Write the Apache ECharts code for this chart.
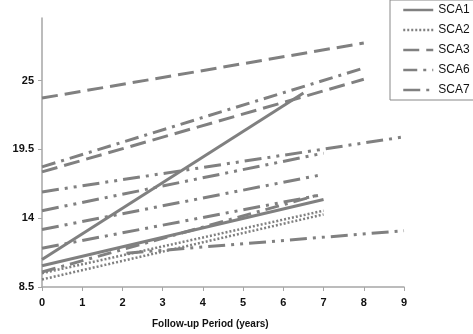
<!DOCTYPE html>
<html>
<head>
<meta charset="utf-8">
<script src="https://cdn.jsdelivr.net/npm/echarts@6/dist/echarts.min.js"></script>
<style>
  html, body { margin: 0; padding: 0; background: #fff; }
  #chart { width: 473px; height: 334px; }
</style>
</head>
<body>
<div id="chart"></div>
<script>
// each group holds the lines of one genotype, each line as [[x0, y0], [x1, y1]]
const sca1Lines = [
  [[0, 10.7], [6.5, 24.0]],
  [[0, 10.2], [7, 15.5]]
]
const sca2Lines = [
  [[0, 9.6], [7, 14.6]],
  [[0, 9.1], [7, 14.3]]
]
const sca3Lines = [
  [[0, 23.6], [8, 28.0]],
  [[0, 17.7], [8, 25.1]]
]
const sca6Lines = [
  [[0, 18.1], [8, 26.0]],
  [[0, 9.7], [6.8, 15.8]]
]
const sca7Lines = [
  [[0, 16.1], [9, 20.5]],
  [[0, 14.6], [7, 19.2]],
  [[0, 13.1], [7, 17.5]],
  [[0, 11.6], [7, 15.9]],
  [[2.1, 11.2], [9, 13.0]]
]
const legendNames = ['SCA1', 'SCA2', 'SCA3', 'SCA6', 'SCA7']
const yTicks = [8.5, 14, 19.5, 25]

const lineColor = '#808080'
const styles = {
  SCA1: { width: 3, type: 'solid' },
  SCA2: { width: 2.5, type: [2, 2] },
  SCA3: { width: 3, type: [16, 7] },
  SCA6: { width: 3, type: [14, 6, 3, 6] },
  SCA7: { width: 3, type: [17, 6, 3, 6, 3, 6] }
}

const groups = [
  ['SCA1', sca1Lines],
  ['SCA2', sca2Lines],
  ['SCA3', sca3Lines],
  ['SCA6', sca6Lines],
  ['SCA7', sca7Lines]
]

const series = []
groups.forEach(([name, lines]) => {
  lines.forEach((pts) => {
    series.push({
      name: name,
      type: 'line',
      data: pts,
      symbol: 'none',
      silent: true,
      lineStyle: {
        color: lineColor,
        width: styles[name].width,
        type: styles[name].type,
        cap: 'butt'
      },
      itemStyle: { color: lineColor }
    })
  })
})

const font = 'Liberation Sans Narrow, Liberation Sans, Arial, sans-serif'

const myChart = echarts.init(document.getElementById('chart'))
const option = {
  animation: false,
  backgroundColor: '#fff',
  title: {
    text: 'Follow-up Period (years)',
    left: 152,
    top: 319,
    padding: 0,
    textStyle: {
      fontFamily: 'Liberation Sans, Arial, sans-serif',
      fontSize: 10,
      fontWeight: 'bold',
      color: '#111'
    }
  },
  grid: {
    left: 42,
    right: 69,
    top: 18,
    bottom: 47,
    containLabel: false,
    outerBoundsMode: 'none'
  },
  legend: {
    data: legendNames,
    orient: 'vertical',
    left: 390,
    top: 0,
    padding: [4, 9, 4, 12],
    itemWidth: 30,
    itemHeight: 14,
    itemGap: 8,
    borderColor: '#888',
    borderWidth: 1,
    selectedMode: false,
    itemStyle: { opacity: 0 },
    lineStyle: { width: 2.5 },
    textStyle: {
      fontFamily: font,
      fontSize: 12,
      color: '#111'
    }
  },
  xAxis: {
    type: 'value',
    min: 0,
    max: 9,
    interval: 1,
    splitLine: { show: false },
    axisLine: { onZero: false, lineStyle: { color: '#a6a6a6', width: 1.5 } },
    axisTick: { show: true, length: 4, lineStyle: { color: '#a6a6a6', width: 1 } },
    axisLabel: {
      margin: 10,
      fontFamily: font,
      fontSize: 11,
      fontWeight: 'bold',
      color: '#111'
    }
  },
  yAxis: {
    type: 'value',
    min: 8.5,
    max: 30,
    interval: 5.5,
    name: 'SARA Score',
    nameLocation: 'middle',
    nameGap: 35,
    nameRotate: 90,
    nameTextStyle: {
      fontFamily: 'Liberation Sans, Arial, sans-serif',
      fontSize: 10,
      fontWeight: 'bold',
      color: '#111'
    },
    splitLine: { show: false },
    axisLine: { show: true, lineStyle: { color: '#a6a6a6', width: 1.5 } },
    axisTick: {
      show: true,
      length: 4,
      customValues: yTicks,
      lineStyle: { color: '#a6a6a6', width: 1 }
    },
    axisLabel: {
      customValues: yTicks,
      margin: 8,
      fontFamily: font,
      fontSize: 11,
      fontWeight: 'bold',
      color: '#111'
    }
  },
  series: series
}
myChart.setOption(option)
</script>
</body>
</html>
